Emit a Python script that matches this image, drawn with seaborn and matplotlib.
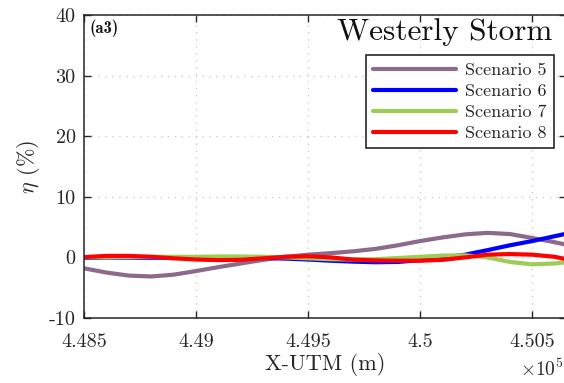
import numpy as np
import pandas as pd
import seaborn as sns
import matplotlib
matplotlib.use("Agg")
import matplotlib.pyplot as plt

# Easting positions (m) and efficiency change eta (%) for each scenario
x_utm = [448500, 448600, 448700, 448800, 448900, 449000, 449100, 449200,
         449300, 449400, 449500, 449600, 449700, 449800, 449900, 450000,
         450100, 450200, 450300, 450400, 450500, 450600, 450650]

scenario5 = [-1.8, -2.5, -3.0, -3.15, -2.85, -2.25, -1.6, -1.0,
             -0.4, 0.1, 0.45, 0.7, 1.0, 1.4, 2.0, 2.7,
             3.3, 3.8, 4.05, 3.85, 3.2, 2.5, 2.1]
scenario6 = [-0.1, -0.05, -0.05, -0.05, -0.05, -0.1, -0.1, -0.1,
             -0.1, -0.2, -0.35, -0.55, -0.7, -0.8, -0.75, -0.45,
             -0.05, 0.45, 1.2, 2.0, 2.7, 3.5, 3.9]
scenario7 = [0.0, 0.0, 0.05, 0.1, 0.1, 0.1, 0.15, 0.15,
             0.1, 0.0, -0.15, -0.3, -0.35, -0.3, -0.1, 0.1,
             0.3, 0.35, 0.0, -0.75, -1.15, -1.0, -0.8]
scenario8 = [0.05, 0.25, 0.25, 0.1, -0.15, -0.35, -0.45, -0.4,
             -0.15, 0.1, 0.2, 0.0, -0.35, -0.5, -0.55, -0.55,
             -0.4, 0.0, 0.45, 0.55, 0.45, 0.1, -0.3]

series_names = ["Scenario 5", "Scenario 6", "Scenario 7", "Scenario 8"]
series_colors = ["#8c6a89", "#0000ff", "#9dcd57", "#ff0000"]

x_ticks = [448500, 449000, 449500, 450000, 450500]
x_tick_labels = ["4.485", "4.49", "4.495", "4.5", "4.505"]
y_ticks = [-10, 0, 10, 20, 30, 40]
y_tick_labels = ["-10", "0", "10", "20", "30", "40"]

frames = []
for name, vals in zip(series_names, [scenario5, scenario6, scenario7, scenario8]):
    frames.append(pd.DataFrame({"x": x_utm, "eta": vals, "scenario": name}))
df = pd.concat(frames, ignore_index=True)

sns.set_theme(style="ticks")
plt.rcParams.update({
    "font.family": "serif",
    "font.serif": ["cmr10"],
    "mathtext.fontset": "cm",
    "axes.formatter.use_mathtext": True,
    "axes.unicode_minus": False,
    "axes.edgecolor": "#262626",
    "axes.linewidth": 1.1,
})

fig = plt.figure(figsize=(5.64, 3.83), dpi=100)
ax = fig.add_axes([84 / 564, 65 / 383, (566 - 84) / 564, 303 / 383])

sns.lineplot(data=df, x="x", y="eta", hue="scenario", palette=series_colors,
             hue_order=series_names, linewidth=3.0, ax=ax, sort=False)

ax.set_xlim(448500, 450650)
ax.set_ylim(-10, 40)
ax.set_xticks(x_ticks)
ax.set_xticklabels(x_tick_labels)
ax.set_yticks(y_ticks)
ax.set_yticklabels(y_tick_labels)
ax.tick_params(direction="in", length=5, width=1.0, top=True, right=True,
               labelsize=14.5, colors="#262626", pad=6)
ax.tick_params(axis="x", pad=11)
ax.grid(True, linestyle=(0, (1, 4)), color="#cccccc", linewidth=1.0)

ax.set_xlabel("X-UTM (m)", fontsize=16, color="#262626", labelpad=1)
ax.set_ylabel(r"$\eta$ (%)", fontsize=16, color="#262626", labelpad=5)

ax.text(0.995, -0.135, r"$\times 10^5$", transform=ax.transAxes,
        ha="right", va="top", fontsize=14, color="#262626")
ax.text(0.012, 0.985, "(a3)", transform=ax.transAxes, family="cmb10",
        ha="left", va="top", fontsize=12, color="#111111")
ax.text(0.972, 0.99, "Westerly Storm", transform=ax.transAxes,
        ha="right", va="top", fontsize=22.5, color="#111111")

leg = ax.legend(loc="upper right", bbox_to_anchor=(0.975, 0.868),
                borderaxespad=0, fontsize=13, handlelength=4.6,
                handletextpad=0.5, labelspacing=0.3, borderpad=0.4,
                fancybox=False, framealpha=1, edgecolor="#262626")
leg.get_frame().set_linewidth(1.2)
for line in leg.get_lines():
    line.set_linewidth(3.0)

fig.savefig("out.png", dpi=100)
